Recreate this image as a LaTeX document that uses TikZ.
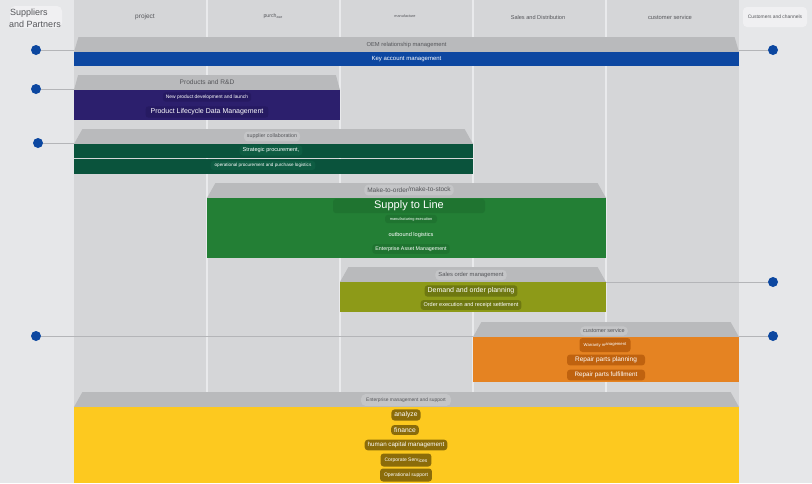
\documentclass[tikz,border=0pt]{standalone}
\usepackage{fontspec}
\setmainfont{Liberation Sans}
\usetikzlibrary{shapes.geometric}
\definecolor{sidegray}{HTML}{E6E7E9}
\definecolor{colgray}{HTML}{D5D6D8}
\definecolor{sepgray}{HTML}{E9EAEC}
\definecolor{roofgray}{HTML}{B9BABC}
\definecolor{roofchip}{HTML}{C4C5C7}
\definecolor{inkgray}{HTML}{55565A}
\definecolor{linkgray}{HTML}{B4B5B8}
\definecolor{hubblue}{HTML}{0C47A0}
\definecolor{keyblue}{HTML}{0D47A1}
\definecolor{rdpurple}{HTML}{2C1F6D}
\definecolor{rdchip}{HTML}{261A62}
\definecolor{scmgreen}{HTML}{0A533C}
\definecolor{scmchip}{HTML}{0E5C42}
\definecolor{stlgreen}{HTML}{237F35}
\definecolor{stlchip}{HTML}{1F7430}
\definecolor{sdolive}{HTML}{8D9A18}
\definecolor{sdchip}{HTML}{6E7811}
\definecolor{csorange}{HTML}{E58322}
\definecolor{cschip}{HTML}{BF620F}
\definecolor{emyellow}{HTML}{FDC91F}
\definecolor{emchip}{HTML}{8B6C0A}
\newcommand\fsz[1]{\fontsize{#1}{#1}\selectfont}
\tikzset{
    lanesep/.style={draw=sepgray, line width=1.4},
    head/.style={text=inkgray, inner sep=1, font=\fsz{#1}},
    roof/.style={trapezium, trapezium stretches body=true, trapezium angle=59, fill=roofgray, minimum height=15, inner sep=1, text=inkgray},
    rooftag/.style={fill=roofchip, rounded corners=4, inner xsep=3, inner ysep=2.5, text=inkgray, font=\fsz{#1}},
    bar/.style={rectangle, inner sep=0, text=white, fill=#1},
    chip/.style={fill=#1, rounded corners=3, inner xsep=3, inner ysep=2.4, text=white},
    hub/.style={circle, fill=hubblue, minimum size=10, inner sep=0},
    link/.style={draw=linkgray, line width=0.7},
}
\begin{document}
\begin{tikzpicture}[x=1pt,y=-1pt]
\useasboundingbox (0,0) rectangle (812,483);
% lanes
\fill[sidegray] (0,0) rectangle (812,483);
\fill[colgray] (74,0) rectangle (739,483);
\draw[lanesep] (207,0) -- (207,483);
\draw[lanesep] (340,0) -- (340,483);
\draw[lanesep] (473,0) -- (473,483);
\draw[lanesep] (606,0) -- (606,483);
% column heads
\node[fill=sepgray!70!white, rounded corners=5, minimum width=52, minimum height=22] (supbg) at (36,17) {};
\node[head=9, align=left] (sup) at (35,18) {\hspace*{1pt}Suppliers\\[2.6pt]and Partners};
\node[head=6.5] (hproj) at (145,17) {project};
\node[head=5.2] (hpur) at (273,16) {purch\raisebox{-0.8pt}{\fsz{3.6}ase}};
\node[head=3.8] (hman) at (405,16) {manufacture};
\node[head=5.6] (hsd) at (538,17) {Sales and Distribution};
\node[head=5.8] (hcs) at (670,17) {customer service};
\node[fill=sepgray!70!white, rounded corners=4, minimum width=64, minimum height=20] (cusbg) at (775,17) {};
\node[head=4.9] (cus) at (775,17) {Customers and channels};

% OEM / key account
\node[roof, minimum width=665, font=\fsz{5.8}] (oem) at (406.5,44.5) {OEM relationship management};
\node[bar=keyblue, minimum width=665, minimum height=14, font=\fsz{6}] (kam) at (406.5,59) {Key account management};
\node[hub] (h1) at (36,50) {};
\node[hub] (h1r) at (773,50) {};
\draw[link] (h1) -- (h1 -| oem.bottom left corner);
\draw[link] (h1r) -- (h1r -| oem.bottom right corner);

% products and R&D
\node[roof, minimum width=266, font=\fsz{6.6}] (rd) at (207,82.5) {Products and R\&D};
\node[bar=rdpurple, minimum width=266, minimum height=30] (rdbar) at (207,105) {};
\node[chip=rdchip, font=\fsz{4.9}] (npd) at (207,97) {New product development and launch};
\node[chip=rdchip, font=\fsz{7}, inner xsep=5] (plm) at (207,112) {Product Lifecycle Data Management};
\node[hub] (h2) at (36,89) {};
\draw[link] (h2) -- (h2 -| rd.bottom left corner);

% supplier collaboration
\node[roof, minimum width=399] (scm) at (273.5,136.5) {\strut};
\node[rooftag=5.3] (scmt) at (272,136.5) {supplier collaboration};
\node[bar=scmgreen, minimum width=399, minimum height=14] (spbar) at (273.5,151) {};
\node[bar=scmgreen, minimum width=399, minimum height=15] (opbar) at (273.5,166.5) {};
\node[chip=scmchip, font=\fsz{5.6}] (sp) at (271,150.5) {Strategic procurement,};
\node[chip=scmchip, font=\fsz{4.6}, inner xsep=4] (op) at (263,165.5) {operational procurement and purchase logistics};
\node[hub] (h3) at (38,143) {};
\draw[link] (h3) -- (h3 -| scm.bottom left corner);

% make-to-order / supply to line
\node[roof, minimum width=399] (mto) at (406.5,190.5) {\strut};
\node[rooftag=6.5] (mtot) at (409,190) {Make-to-order\raisebox{1pt}{/make-to-stock}};
\node[bar=stlgreen, minimum width=399, minimum height=60] (stlbar) at (406.5,228) {};
\node[chip=stlchip, font=\fsz{11}, minimum width=152, inner ysep=2] (stl) at (409,206) {Supply to Line};
\node[chip=stlchip, font=\fsz{3.9}, minimum width=52] (mes) at (411,219) {manufacturing execution};
\node[font=\fsz{5.6}, text=white] (obl) at (411,235) {outbound logistics};
\node[chip=stlchip, font=\fsz{5.3}] (eam) at (411,249) {Enterprise Asset Management};

% sales order management
\node[roof, minimum width=266] (som) at (473,274.5) {\strut};
\node[rooftag=5.8] (somt) at (471,275) {Sales order management};
\node[bar=sdolive, minimum width=266, minimum height=30] (sobar) at (473,297) {};
\node[chip=sdchip, font=\fsz{7}] (dop) at (471,291) {Demand and order planning};
\node[chip=sdchip, font=\fsz{5.5}] (oes) at (471,305) {Order execution and receipt settlement};
\node[hub] (h5r) at (773,282) {};
\draw[link] (h5r) -- (h5r -| som.bottom right corner);

% customer service
\node[roof, minimum width=266] (csv) at (606,329.5) {\strut};
\node[rooftag=5.5] (csvt) at (604,331) {customer service};
\node[bar=csorange, minimum width=266, minimum height=45] (csbar) at (606,359.5) {};
\node[chip=cschip, font=\fsz{4.2}, minimum width=51, minimum height=14] (wty) at (605,345) {Warranty m\raisebox{1pt}{anagement}};
\node[chip=cschip, font=\fsz{6.5}, minimum width=78] (rpp) at (606,360) {Repair parts planning};
\node[chip=cschip, font=\fsz{6.3}, minimum width=78] (rpf) at (606,375) {Repair parts fulfillment};
\node[hub] (h6) at (36,336) {};
\node[hub] (h6r) at (773,336) {};
\draw[link] (h6) -- (h6 -| csv.bottom left corner);
\draw[link] (h6r) -- (h6r -| csv.bottom right corner);

% enterprise management and support
\node[roof, minimum width=665] (ems) at (406.5,399.5) {\strut};
\node[rooftag=4.9, inner ysep=3.5, inner xsep=5] (emst) at (406,400) {Enterprise management and support};
\node[bar=emyellow, minimum width=665, minimum height=76] (embar) at (406.5,445) {};
\node[chip=emchip, font=\fsz{6.7}] (ana) at (406,415) {analyze};
\node[chip=emchip, font=\fsz{6.7}] (fin) at (405,430) {finance};
\node[chip=emchip, font=\fsz{6.2}] (hcm) at (406,445) {human capital management};
\node[chip=emchip, font=\fsz{5}, minimum height=13, inner xsep=4] (cse) at (406,460) {Corporate Serv\raisebox{-1pt}{ices}};
\node[chip=emchip, font=\fsz{5}, minimum height=13, inner xsep=4] (ops) at (406,475) {Operational support};
\end{tikzpicture}
\end{document}
